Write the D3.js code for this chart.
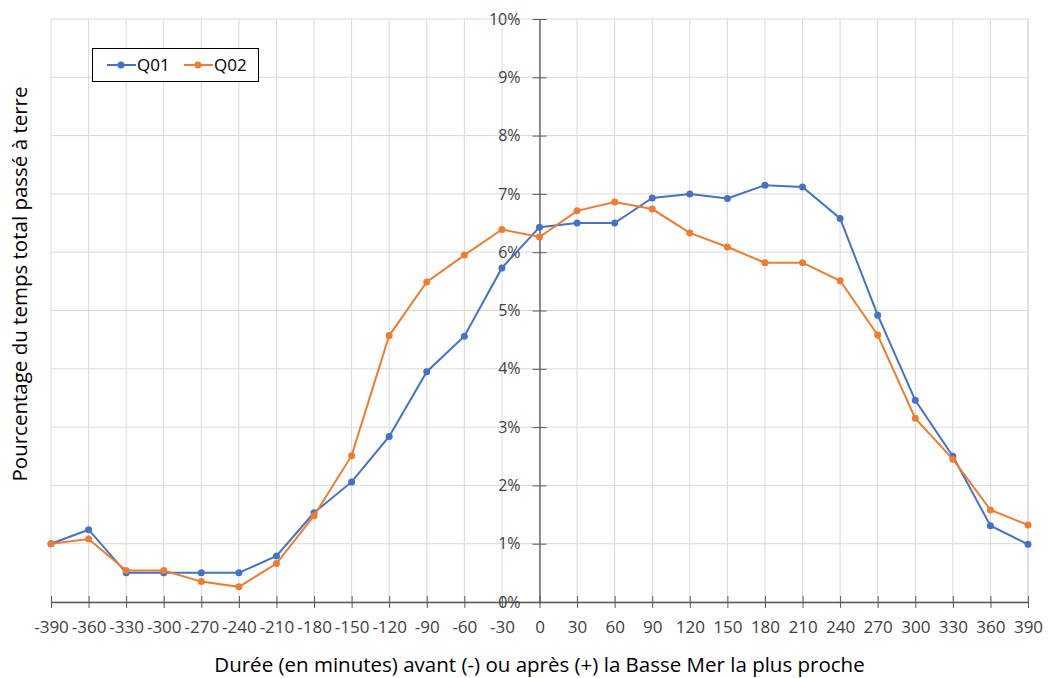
<!DOCTYPE html>
<html><head><meta charset="utf-8">
<script src="https://cdn.jsdelivr.net/npm/d3@7"></script>
<style>body{margin:0;background:#fff;} text{font-family:"Open Sans",sans-serif;}</style>
</head><body><svg id="c" width="1049" height="678"></svg>
<script>
const categories = [-390,-360,-330,-300,-270,-240,-210,-180,-150,-120,-90,-60,-30,0,30,60,90,120,150,180,210,240,270,300,330,360,390];
const q01 = [1.00,1.24,0.50,0.50,0.50,0.50,0.79,1.53,2.06,2.84,3.95,4.56,5.73,6.43,6.50,6.50,6.93,7.00,6.92,7.15,7.12,6.58,4.92,3.46,2.50,1.31,0.99];
const q02 = [1.00,1.08,0.54,0.54,0.35,0.26,0.66,1.48,2.51,4.57,5.49,5.95,6.39,6.26,6.71,6.86,6.74,6.33,6.09,5.82,5.82,5.51,4.58,3.15,2.45,1.58,1.32];
const yTicks = [0,1,2,3,4,5,6,7,8,9,10];
const seriesNames = ["Q01","Q02"];
const colors = ["#4472C4","#ED7D31"];
const xTitle = "Durée (en minutes) avant (-) ou après (+) la Basse Mer la plus proche";
const yTitle = "Pourcentage du temps total passé à terre";

const svg = d3.select("#c");
const L=51, R=1028, T=19, B=602;
const x = d3.scaleLinear().domain([-390,390]).range([L,R]);
const y = d3.scaleLinear().domain([0,10]).range([B,T]);

// grid
svg.append("g").selectAll("line").data(categories).join("line")
  .attr("x1",d=>x(d)).attr("x2",d=>x(d)).attr("y1",T).attr("y2",B)
  .attr("stroke","#d9d9d9").attr("stroke-width",1);
svg.append("g").selectAll("line").data(yTicks).join("line")
  .attr("x1",L).attr("x2",R).attr("y1",d=>y(d)).attr("y2",d=>y(d))
  .attr("stroke","#d9d9d9").attr("stroke-width",1);
svg.append("line").attr("x1",R).attr("x2",R).attr("y1",T).attr("y2",B).attr("stroke","#d9d9d9");

// x axis
const xa = svg.append("g").attr("transform",`translate(0,${B})`)
  .call(d3.axisBottom(x).tickValues(categories).tickSize(6).tickSizeOuter(0).tickFormat(d=>d));
xa.select(".domain").attr("stroke","#595959").attr("stroke-width",1.3);
xa.selectAll(".tick line").attr("stroke","#595959").attr("y1",-6).attr("y2",6);
xa.selectAll(".tick text").attr("y",19).style("font-size","17px").attr("fill","#404040").style("font-family","'Open Sans',sans-serif");

// y axis at x=0
const ya = svg.append("g").attr("transform",`translate(${x(0)},0)`)
  .call(d3.axisLeft(y).tickValues(yTicks).tickSize(7).tickSizeOuter(0).tickFormat(d=>d+"%"));
ya.select(".domain").attr("stroke","#595959").attr("stroke-width",1.3);
ya.selectAll(".tick line").attr("stroke","#595959").attr("x1",-7).attr("x2",7);
ya.selectAll(".tick text").attr("x",-19).style("font-size","16px").attr("fill","#404040").style("font-family","'Open Sans',sans-serif");

// lines
const series=[q01,q02];
const line = d3.line().x((d,i)=>x(categories[i])).y(d=>y(d));
series.forEach((s,k)=>{
  svg.append("path").datum(s).attr("d",line).attr("fill","none").attr("stroke",colors[k]).attr("stroke-width",2);
  svg.append("g").selectAll("circle").data(s).join("circle")
    .attr("cx",(d,i)=>x(categories[i])).attr("cy",d=>y(d)).attr("r",3.5).attr("fill",colors[k]);
});

// legend
const lg = svg.append("g");
lg.append("rect").attr("x",92.5).attr("y",48.5).attr("width",166).attr("height",33).attr("fill","#fff").attr("stroke","#000").attr("stroke-width",1);
const lx=[107,184];
seriesNames.forEach((n,k)=>{
  lg.append("line").attr("x1",lx[k]).attr("x2",lx[k]+29).attr("y1",65).attr("y2",65).attr("stroke",colors[k]).attr("stroke-width",2);
  lg.append("circle").attr("cx",lx[k]+14).attr("cy",65).attr("r",3.5).attr("fill",colors[k]);
  lg.append("text").attr("x",lx[k]+30).attr("y",71).style("font-size","17px").attr("fill","#000").text(n);
});

// titles
svg.append("text").attr("x",x(0)).attr("y",672).attr("text-anchor","middle").style("font-size","20.5px").attr("fill","#000").text(xTitle);
svg.append("text").attr("transform",`translate(27,${284}) rotate(-90)`).attr("text-anchor","middle").style("font-size","20.5px").attr("fill","#000").text(yTitle);
</script></body></html>
